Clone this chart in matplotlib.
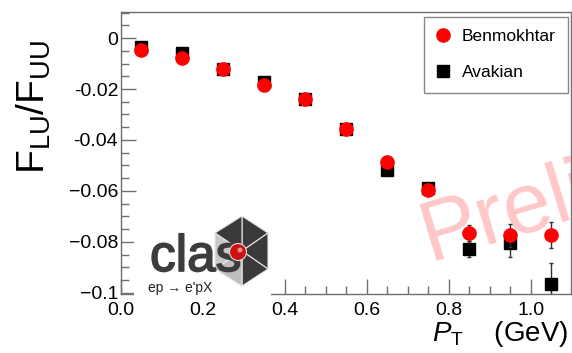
import numpy as np
import matplotlib
matplotlib.use('Agg')
import matplotlib.pyplot as plt
import matplotlib.patheffects as pe
from matplotlib.patches import Polygon, Ellipse, Rectangle
from matplotlib.lines import Line2D
from matplotlib.ticker import MultipleLocator, FixedLocator, FixedFormatter

# data
pt = [0.05, 0.15, 0.25, 0.35, 0.45, 0.55, 0.65, 0.75, 0.85, 0.95, 1.05]
benmokhtar = [-0.0047, -0.0078, -0.0122, -0.0184, -0.0240, -0.0357, -0.0486, -0.0596, -0.0765, -0.0773, -0.0773]
benmokhtar_err = [0.0006, 0.0006, 0.0007, 0.0008, 0.0009, 0.0010, 0.0012, 0.0015, 0.0030, 0.0045, 0.0050]
avakian = [-0.0035, -0.0060, -0.0120, -0.0173, -0.0240, -0.0357, -0.0518, -0.0590, -0.0827, -0.0804, -0.0965]
avakian_err = [0.0005, 0.0005, 0.0006, 0.0007, 0.0008, 0.0009, 0.0011, 0.0014, 0.0031, 0.0055, 0.0082]

ytick_vals = [-0.1, -0.08, -0.06, -0.04, -0.02, 0]
ytick_labels = ['\u22120.1', '\u22120.08', '\u22120.06', '-0.04', '-0.02', '0']

plt.rcParams['font.family'] = ['Liberation Sans', 'DejaVu Sans']
plt.rcParams['mathtext.fontset'] = 'custom'
plt.rcParams['mathtext.rm'] = 'Liberation Sans'
plt.rcParams['mathtext.it'] = 'Liberation Sans:italic'

W, H = 572, 353
fig = plt.figure(figsize=(W / 100, H / 100), dpi=100)
ax = fig.add_axes([121 / W, 1 - 294 / H, 450 / W, 282 / H])

frame_col = '#707070'
for s in ax.spines.values():
    s.set_color(frame_col)
    s.set_linewidth(1.0)

ax.set_xlim(0, 1.098)
ax.set_ylim(-0.1004, 0.0102)

ax.xaxis.set_major_locator(MultipleLocator(0.2))
ax.xaxis.set_minor_locator(MultipleLocator(0.05))
ax.yaxis.set_major_locator(FixedLocator(ytick_vals))
ax.yaxis.set_major_formatter(FixedFormatter(ytick_labels))
ax.yaxis.set_minor_locator(MultipleLocator(0.005))
ax.tick_params(which='both', direction='in', color=frame_col, labelsize=14, top=False, right=False)
ax.tick_params(which='major', length=11, width=1)
ax.tick_params(which='minor', length=6, width=1)
ax.tick_params(axis='x', pad=6)
ax.tick_params(axis='y', pad=2)

# watermark
ax.text(0.752, -0.0875, 'Preliminary', fontsize=62, color='#ffc8c8', rotation=17,
        rotation_mode='anchor', ha='left', va='baseline', zorder=0, clip_on=True)

ax.errorbar(pt, avakian, yerr=avakian_err, fmt='s', color='black', ms=8.5,
            ecolor='#333333', elinewidth=1, capsize=1.5, zorder=3)
ax.errorbar(pt, benmokhtar, yerr=benmokhtar_err, fmt='o', color='red', ms=9.5,
            ecolor='#333333', elinewidth=1, capsize=1.5, zorder=4)

handles = [Line2D([], [], ls='none', marker='o', color='red', ms=9.5),
           Line2D([], [], ls='none', marker='s', color='black', ms=8.5)]
leg = ax.legend(handles, ['Benmokhtar', 'Avakian'], loc='upper right', bbox_to_anchor=(0.993, 0.982),
                borderaxespad=0, fontsize=12.5, frameon=True, fancybox=False,
                edgecolor='#888888', framealpha=1, handlelength=0.8, handletextpad=0.7,
                labelspacing=1.2, borderpad=0.7)
leg.get_frame().set_linewidth(1.0)

# axis titles
fig.text(568 / W, 1 - 341 / H, r'$P_{\mathrm{T}}$    (GeV)', fontsize=20, ha='right', va='baseline')
fig.text(34 / W, 1 - 40 / H, r'F$_{\mathrm{LU}}$/F$_{\mathrm{UU}}$', fontsize=28,
         rotation=90, ha='center', va='top')

# CLAS logo (white background box covers the frame, as in the reference)
def px(x, y):
    return (x / W, 1 - y / H)

fig.patches.append(Rectangle(px(134, 299), 137 / W, 92 / H, transform=fig.transFigure,
                             facecolor='white', edgecolor='none', zorder=4))
cx, cy = 242, 251
verts = [(242, 216), (268, 233), (268, 269), (242, 286), (215, 269), (215, 233)]
tri_cols = ['#3a3a3a', '#3a3a3a', '#3a3a3a', '#bdbdbd', '#c8c8c8', '#3a3a3a']
for k in range(6):
    a, b = verts[k], verts[(k + 1) % 6]
    fig.patches.append(Polygon([px(cx, cy), px(*a), px(*b)], closed=True, transform=fig.transFigure,
                               facecolor=tri_cols[k], edgecolor='#e6e6e6', linewidth=0.8, zorder=5))
fig.text(150 / W, 1 - 271 / H, 'clas', fontsize=37, color='#3c3c3c', ha='left', va='baseline',
         zorder=6, path_effects=[pe.withStroke(linewidth=1.2, foreground='#3c3c3c')])
fig.patches.append(Ellipse(px(238, 252), 17 / W, 17 / H, transform=fig.transFigure, facecolor='#cc1111',
                           edgecolor='#dddddd', linewidth=0.8, zorder=7))
fig.patches.append(Ellipse(px(240, 250), 5 / W, 5 / H, transform=fig.transFigure, facecolor='#ff8888',
                           edgecolor='none', zorder=8))
fig.text(148 / W, 1 - 292 / H, "ep \u2192 e'pX", fontsize=10, color='#222222', ha='left',
         va='baseline', zorder=6)

fig.savefig('out.png', dpi=100)
